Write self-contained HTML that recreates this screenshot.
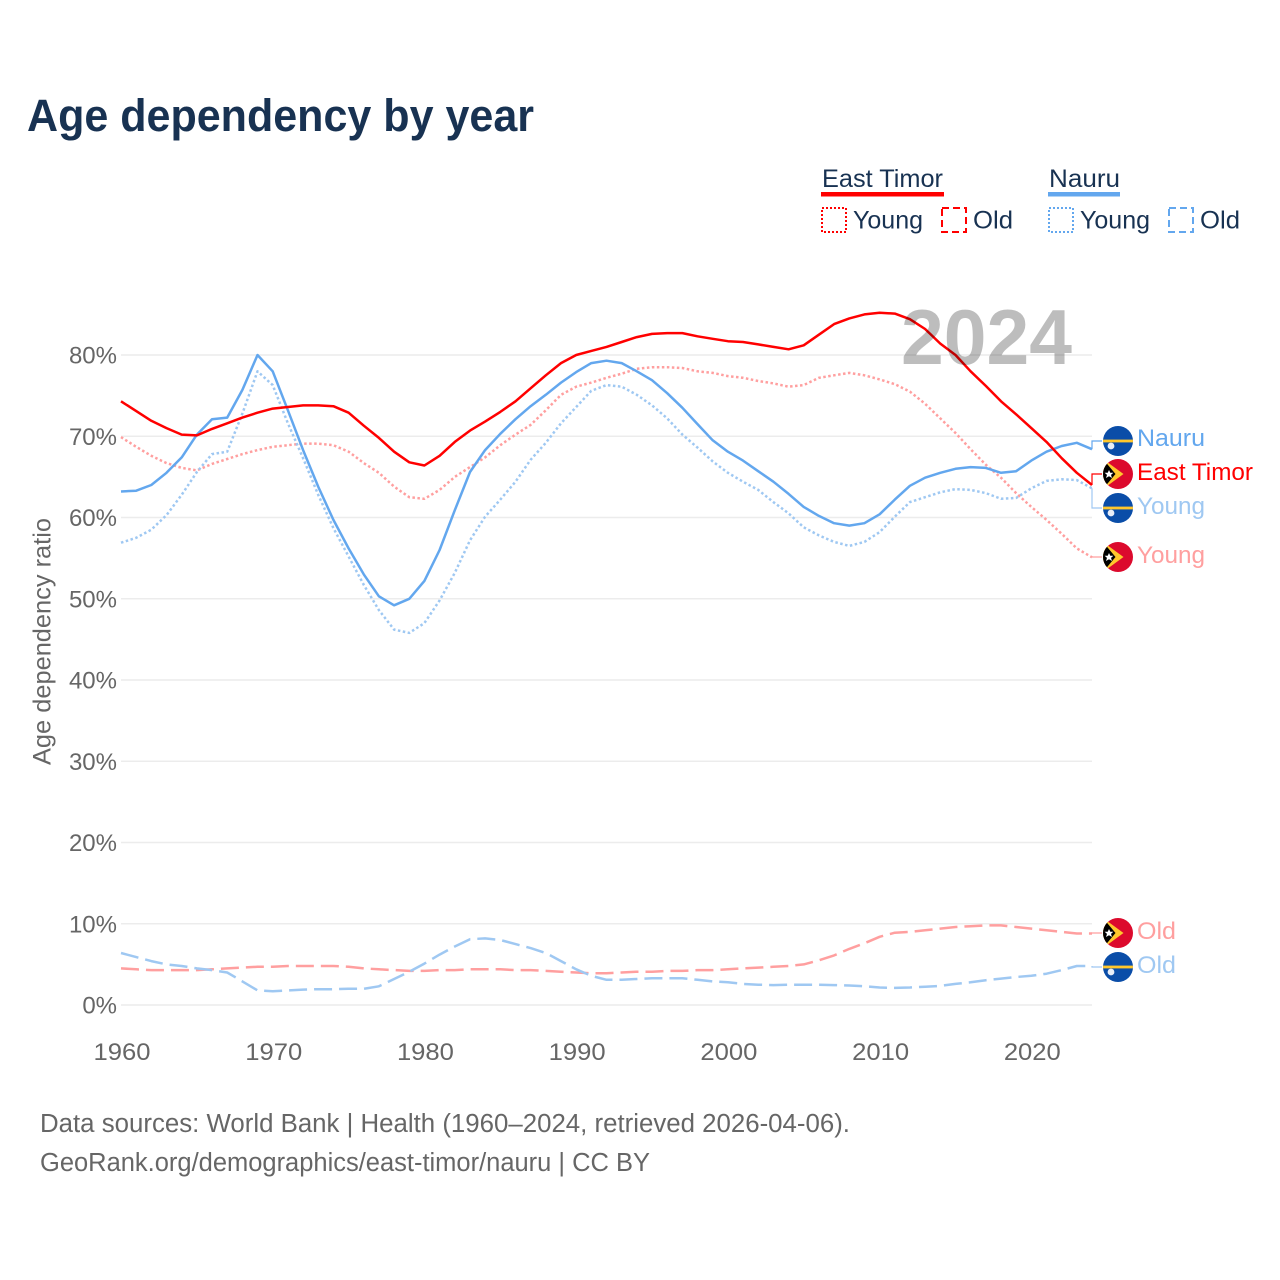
<!DOCTYPE html>
<html lang="en">
<head>
<meta charset="utf-8">
<title>Age dependency by year</title>
<style>
html,body{margin:0;padding:0;background:#fff;}
svg{display:block;font-family:"Liberation Sans",sans-serif;}
</style>
</head>
<body>
<svg id="chart" xmlns="http://www.w3.org/2000/svg" width="1280" height="1280" viewBox="0 0 1280 1280">
  <defs>
    <clipPath id="flag-clip"><circle cx="0" cy="0" r="15"/></clipPath>
    <g id="flag-timor" clip-path="url(#flag-clip)">
      <rect x="-15" y="-15" width="30" height="30" fill="#dc0a2d"/>
      <polygon points="-15,-15 5.5,0 -15,15" fill="#ffc72c"/>
      <polygon points="-15,-15 -2.5,0 -15,15" fill="#000"/>
      <polygon points="-9,-4 -7.7,-1.2 -4.6,-1.2 -7,0.9 -6,4 -9,2.2 -12,4 -11,0.9 -13.4,-1.2 -10.3,-1.2" fill="#fff"/>
    </g>
    <g id="flag-nauru" clip-path="url(#flag-clip)">
      <rect x="-15" y="-15" width="30" height="30" fill="#0a4da8"/>
      <rect x="-15" y="-1.4" width="30" height="2.8" fill="#ffc72c"/>
      <circle cx="-7" cy="5" r="3.4" fill="#e8eef8"/>
    </g>
  </defs>

  <rect x="0" y="0" width="1280" height="1280" fill="#fff"/>

  <text x="27" y="131" font-size="45.5" font-weight="700" fill="#183252" textLength="507" lengthAdjust="spacingAndGlyphs">Age dependency by year</text>

  <g id="grid"></g>
  <g id="yticks"></g>
  <g id="xticks"></g>
  <text transform="translate(50.5 641.5) rotate(-90)" text-anchor="middle" font-size="25" fill="#666" textLength="247" lengthAdjust="spacingAndGlyphs">Age dependency ratio</text>

  <g id="series"></g>
  <g id="leaders"></g>

  <text x="901" y="364" font-size="78" font-weight="700" fill="#000" fill-opacity="0.26" textLength="171" lengthAdjust="spacingAndGlyphs">2024</text>

  <g font-size="24.5">
    <use href="#flag-nauru" x="1118" y="441"/>
    <text x="1137" y="446" fill="#63a7ee" textLength="68" lengthAdjust="spacingAndGlyphs">Nauru</text>
    <use href="#flag-timor" x="1118" y="474"/>
    <text x="1137" y="480" fill="#ff0000" textLength="116" lengthAdjust="spacingAndGlyphs">East Timor</text>
    <use href="#flag-nauru" x="1118" y="508"/>
    <text x="1137" y="514" fill="#9fc8f2" textLength="68" lengthAdjust="spacingAndGlyphs">Young</text>
    <use href="#flag-timor" x="1118" y="557"/>
    <text x="1137" y="563" fill="#ff9f9f" textLength="68" lengthAdjust="spacingAndGlyphs">Young</text>
    <use href="#flag-timor" x="1118" y="933"/>
    <text x="1137" y="939" fill="#ff9f9f" textLength="39" lengthAdjust="spacingAndGlyphs">Old</text>
    <use href="#flag-nauru" x="1118" y="967"/>
    <text x="1137" y="973" fill="#9fc8f2" textLength="39" lengthAdjust="spacingAndGlyphs">Old</text>
  </g>

  <g font-size="25" fill="#183252">
    <text x="822" y="187" textLength="121" lengthAdjust="spacingAndGlyphs">East Timor</text>
    <rect x="821" y="192" width="123" height="4.5" fill="#ff0000"/>
    <rect x="822" y="208" width="24" height="24" fill="none" stroke="#ff0000" stroke-width="2" stroke-dasharray="2 2"/>
    <text x="853" y="228.5" textLength="70" lengthAdjust="spacingAndGlyphs">Young</text>
    <rect x="942" y="208" width="24" height="24" fill="none" stroke="#ff0000" stroke-width="2" stroke-dasharray="7 4"/>
    <text x="973" y="228.5" textLength="40" lengthAdjust="spacingAndGlyphs">Old</text>

    <text x="1049" y="187" textLength="71" lengthAdjust="spacingAndGlyphs">Nauru</text>
    <rect x="1048" y="192" width="72" height="4.5" fill="#63a7ee"/>
    <rect x="1049" y="208" width="24" height="24" fill="none" stroke="#63a7ee" stroke-width="2" stroke-dasharray="2 2"/>
    <text x="1080" y="228.5" textLength="70" lengthAdjust="spacingAndGlyphs">Young</text>
    <rect x="1169" y="208" width="24" height="24" fill="none" stroke="#63a7ee" stroke-width="2" stroke-dasharray="7 4"/>
    <text x="1200" y="228.5" textLength="40" lengthAdjust="spacingAndGlyphs">Old</text>
  </g>

  <g font-size="25.5" fill="#666">
    <text x="40" y="1132" textLength="810" lengthAdjust="spacingAndGlyphs">Data sources: World Bank | Health (1960–2024, retrieved 2026-04-06).</text>
    <text x="40" y="1171" textLength="610" lengthAdjust="spacingAndGlyphs">GeoRank.org/demographics/east-timor/nauru | CC BY</text>
  </g>
</svg>

<script>
var startYear = 1960;
var xTickLabels = [1960, 1970, 1980, 1990, 2000, 2010, 2020];
var yTickLabels = [0, 10, 20, 30, 40, 50, 60, 70, 80];

var timorTotal = [74.3,73.1,71.9,71.0,70.2,70.1,70.9,71.6,72.3,72.9,73.4,73.6,73.8,73.8,73.7,72.9,71.3,69.8,68.1,66.8,66.4,67.6,69.3,70.7,71.8,73.0,74.3,75.9,77.5,79.0,80.0,80.5,81.0,81.6,82.2,82.6,82.7,82.7,82.3,82.0,81.7,81.6,81.3,81.0,80.7,81.2,82.5,83.8,84.5,85.0,85.2,85.1,84.4,83.2,81.4,80.0,78.0,76.2,74.3,72.7,71.0,69.3,67.3,65.5,64.0];
var nauruTotal = [63.2,63.3,64.0,65.5,67.4,70.2,72.1,72.3,75.7,80.0,78.0,73.2,68.3,63.8,59.7,56.2,53.0,50.3,49.2,50.0,52.2,56.0,60.9,65.6,68.3,70.3,72.1,73.7,75.1,76.6,77.9,79.0,79.3,79.0,78.0,76.9,75.3,73.5,71.5,69.5,68.1,67.0,65.7,64.4,62.9,61.3,60.2,59.3,59.0,59.3,60.4,62.2,63.9,64.9,65.5,66.0,66.2,66.1,65.5,65.7,67.0,68.1,68.8,69.2,68.4];
var timorYoung = [69.9,68.7,67.6,66.7,66.1,65.8,66.6,67.2,67.8,68.3,68.7,68.9,69.1,69.1,68.9,68.1,66.7,65.5,63.8,62.5,62.3,63.4,65.0,66.2,67.4,68.9,70.2,71.4,73.2,75.1,76.1,76.6,77.2,77.7,78.3,78.5,78.5,78.4,78.0,77.8,77.4,77.2,76.8,76.5,76.1,76.3,77.2,77.5,77.8,77.5,77.0,76.4,75.5,74.0,72.2,70.4,68.4,66.5,64.9,63.0,61.3,59.7,58.0,56.2,55.1];
var nauruYoung = [56.9,57.5,58.5,60.3,62.8,65.6,67.8,68.1,72.8,78.0,76.3,71.6,67.3,62.8,58.7,55.2,51.7,48.6,46.2,45.8,47.0,49.8,53.2,57.2,60.1,62.2,64.4,67.1,69.2,71.6,73.6,75.6,76.3,76.1,75.1,73.8,72.2,70.2,68.6,66.9,65.5,64.4,63.4,61.9,60.5,58.8,57.8,57.0,56.5,57.0,58.2,60.1,61.9,62.5,63.1,63.5,63.4,63.0,62.3,62.4,63.6,64.5,64.7,64.6,63.6];
var timorOld = [4.5,4.4,4.3,4.3,4.3,4.3,4.4,4.5,4.6,4.7,4.7,4.8,4.8,4.8,4.8,4.7,4.5,4.4,4.3,4.2,4.2,4.3,4.3,4.4,4.4,4.4,4.3,4.3,4.2,4.1,4.0,3.9,3.9,4.0,4.1,4.1,4.2,4.2,4.3,4.3,4.4,4.5,4.6,4.7,4.8,5.0,5.5,6.1,6.9,7.6,8.4,8.9,9.0,9.2,9.4,9.6,9.7,9.8,9.8,9.6,9.4,9.2,9.0,8.8,8.8];
var nauruOld = [6.4,5.9,5.4,5.0,4.8,4.5,4.3,4.0,2.9,1.8,1.7,1.8,1.9,1.95,1.95,2.0,2.0,2.3,3.2,4.1,5.1,6.2,7.2,8.1,8.2,8.0,7.5,7.0,6.4,5.4,4.4,3.6,3.1,3.1,3.2,3.3,3.3,3.3,3.1,2.9,2.8,2.6,2.5,2.45,2.5,2.5,2.5,2.45,2.4,2.3,2.15,2.1,2.15,2.25,2.35,2.6,2.8,3.05,3.25,3.45,3.6,3.85,4.3,4.8,4.8];

var NS = 'http://www.w3.org/2000/svg';
function xScale(year) { return 121 + (year - 1960) * (1092 - 121) / 64; }
function yScale(pct) { return 1005 - pct * 650 / 80; }
function make(tag, attrs, parent) {
  var el = document.createElementNS(NS, tag);
  for (var k in attrs) el.setAttribute(k, attrs[k]);
  parent.appendChild(el);
  return el;
}

var grid = document.getElementById('grid');
var yticks = document.getElementById('yticks');
yTickLabels.forEach(function (v) {
  var line = make('line', {x1: 121, x2: 1092, y1: yScale(v), y2: yScale(v), stroke: '#ececec', 'stroke-width': 1.5}, grid);
  
  
  var t = make('text', {x: 117, y: yScale(v) + 8.5, 'text-anchor': 'end', 'font-size': 24, fill: '#666'}, yticks);
  
  
  t.textContent = v + '%';
});

var xticks = document.getElementById('xticks');
xTickLabels.forEach(function (v) {
  var t = make('text', {x: xScale(v) + 1, y: 1060, 'text-anchor': 'middle', 'font-size': 24.5, fill: '#666', textLength: 57, lengthAdjust: 'spacingAndGlyphs'}, xticks);
  
  
  t.textContent = v;
});

function linePath(values) {
  return values.map(function (v, i) {
    return (i ? 'L' : 'M') + xScale(startYear + i).toFixed(1) + ' ' + yScale(v).toFixed(1);
  }).join(' ');
}

var seriesGroup = document.getElementById('series');
var leaders = document.getElementById('leaders');

function drawLine(values, color, dash, width) {
  var attrs = {d: linePath(values), fill: 'none', stroke: color, 'stroke-width': width, 'stroke-linejoin': 'round'};
  if (dash) attrs['stroke-dasharray'] = dash;
  return make('path', attrs, seriesGroup);
}
function drawLeader(values, labelY, color) {
  var yEnd = yScale(values[values.length - 1]);
  return make('path', {d: 'M1092 ' + yEnd.toFixed(1) + ' V' + labelY + ' H1102', fill: 'none', stroke: color, 'stroke-width': 1.2}, leaders);
}

var el;
el = drawLine(timorOld, '#ff9f9f', '18 7', 2.5);


el = drawLine(nauruOld, '#9fc8f2', '18 7', 2.5);


el = drawLine(timorYoung, '#ff9f9f', '2.5 2.5', 2.5);


el = drawLine(nauruYoung, '#9fc8f2', '2.5 2.5', 2.5);


el = drawLine(nauruTotal, '#63a7ee', '', 2.5);


el = drawLine(timorTotal, '#ff0000', '', 2.5);



el = drawLeader(nauruTotal, 441, '#63a7ee');


el = drawLeader(timorTotal, 474, '#ff0000');


el = drawLeader(nauruYoung, 508, '#9fc8f2');


el = drawLeader(timorYoung, 557, '#ff9f9f');


el = drawLeader(timorOld, 933, '#ff9f9f');


el = drawLeader(nauruOld, 967, '#9fc8f2');


</script>
</body>
</html>
